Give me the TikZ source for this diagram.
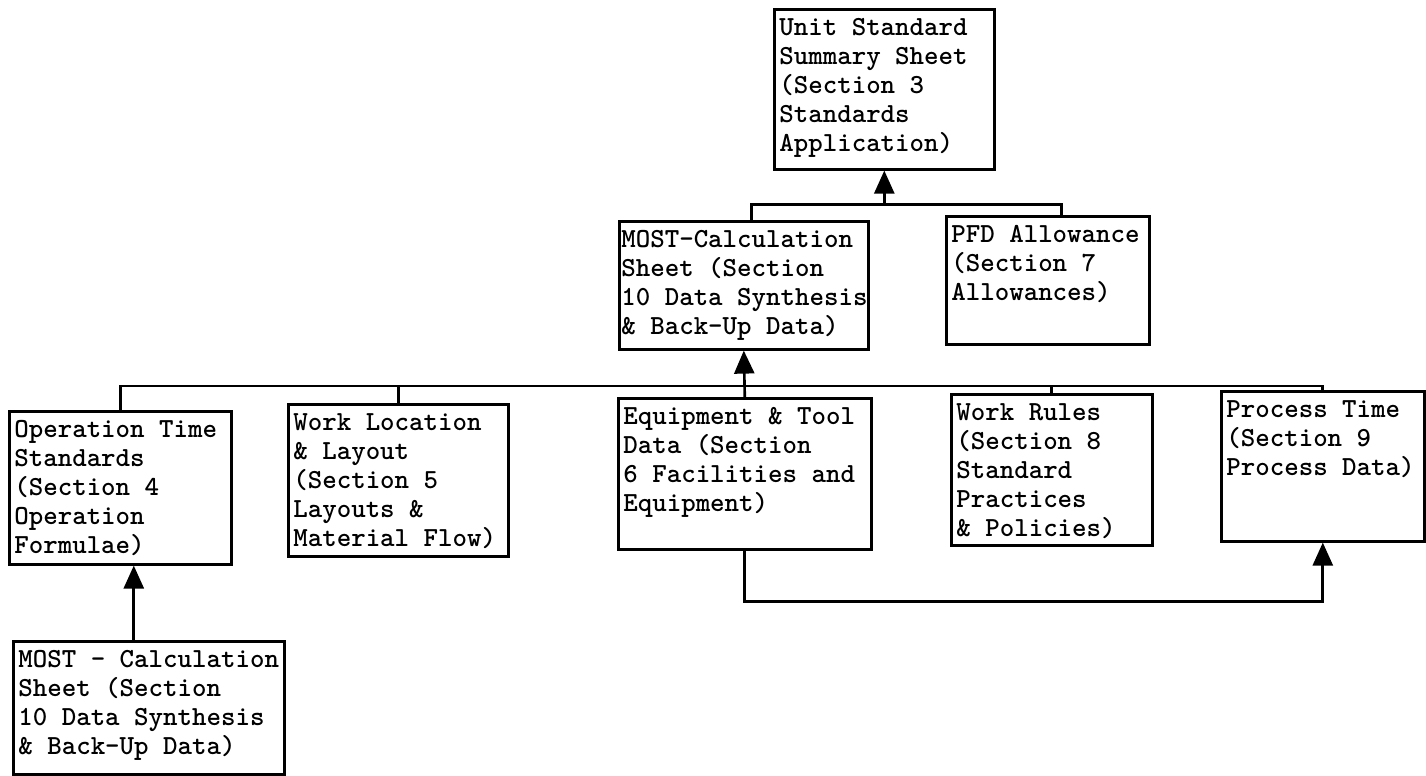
\documentclass[tikz,border=0pt]{standalone}
\usepackage{tikz}
\usetikzlibrary{arrows.meta,positioning,calc}

\tikzstyle{sheetbox} = [draw, rectangle, line width=1.5pt, anchor=north west, inner sep=0pt]
\tikzstyle{sheettext} = [anchor=north west, align=left, inner xsep=0.12cm, inner ysep=0.2cm, font=\fontsize{15.7}{16.5}\selectfont\ttfamily\bfseries]
\tikzstyle{link} = [line width=1.5pt]
\tikzstyle{arrow} = [line width=1.5pt, -{Triangle[length=4.6mm,width=4mm]}]

\begin{document}
\begin{tikzpicture}[x=0.02cm, y=-0.02cm]
\useasboundingbox (0,0) rectangle (1426,776);

% Top level
\node[sheetbox, minimum width=4.4cm, minimum height=3.2cm] (unit) at (773,8) {};
\node[sheettext] (unit-t) at (unit.north west) {Unit Standard\\Summary Sheet\\(Section 3\\Standards\\Application)};

% Second level
\node[sheetbox, minimum width=4.98cm, minimum height=2.56cm] (mostmid) at (618,220) {};
\node[sheettext, inner xsep=0.06cm] (mostmid-t) at (mostmid.north west) {MOST-Calculation\\Sheet (Section\\10 Data Synthesis\\\& Back-Up Data)};
\node[sheetbox, minimum width=4.06cm, minimum height=2.56cm] (pfd) at (945,215) {};
\node[sheettext] (pfd-t) at (pfd.north west) {PFD Allowance\\(Section 7\\Allowances)};

% Third level
\node[sheetbox, minimum width=4.44cm, minimum height=3.06cm] (optime) at (8,410) {};
\node[sheettext] (optime-t) at (optime.north west) {Operation Time\\Standards\\(Section 4\\Operation\\Formulae)};
\node[sheetbox, minimum width=4.4cm, minimum height=3.04cm] (workloc) at (287,403) {};
\node[sheettext] (workloc-t) at (workloc.north west) {Work Location\\\& Layout\\(Section 5\\Layouts \&\\Material Flow)};
\node[sheetbox, minimum width=5.06cm, minimum height=3.02cm] (equip) at (617,397) {};
\node[sheettext] (equip-t) at (equip.north west) {Equipment \& Tool\\Data (Section\\6 Facilities and\\Equipment)};
\node[sheetbox, minimum width=4.02cm, minimum height=3.02cm] (rules) at (950,393) {};
\node[sheettext] (rules-t) at (rules.north west) {Work Rules\\(Section 8\\Standard\\Practices\\\& Policies)};
\node[sheetbox, minimum width=4.06cm, minimum height=3.0cm] (proc) at (1220,390) {};
\node[sheettext] (proc-t) at (proc.north west) {Process Time\\(Section 9\\Process Data)};

% Bottom level
\node[sheetbox, minimum width=5.42cm, minimum height=2.66cm] (mostlow) at (12,640) {};
\node[sheettext] (mostlow-t) at (mostlow.north west) {MOST - Calculation\\Sheet (Section\\10 Data Synthesis\\\& Back-Up Data)};

% Connectors
\coordinate (ujoin) at ($(unit.south)+(0,34)$);
\coordinate (ljoin) at ($(equip.north)+(0,-11)$);
\draw[link] ([xshift=0.16cm]mostmid.north) |- (ujoin) -| ([xshift=0.28cm]pfd.north);
\draw[arrow] (ujoin) -- (unit.south);
\draw[link] (optime.north) |- (ljoin) -| (proc.north);
\draw[link] (workloc.north) -- (workloc.north |- ljoin);
\draw[link] (rules.north) -- (rules.north |- ljoin);
\draw[arrow] (equip.north) -- (mostmid.south);
\draw[arrow] ([xshift=-0.3cm]mostlow.north) -- ([xshift=-0.3cm]mostlow.north |- optime.south);
\draw[arrow] (equip.south) -- ++(0,51) -| (proc.south);
\end{tikzpicture}
\end{document}
